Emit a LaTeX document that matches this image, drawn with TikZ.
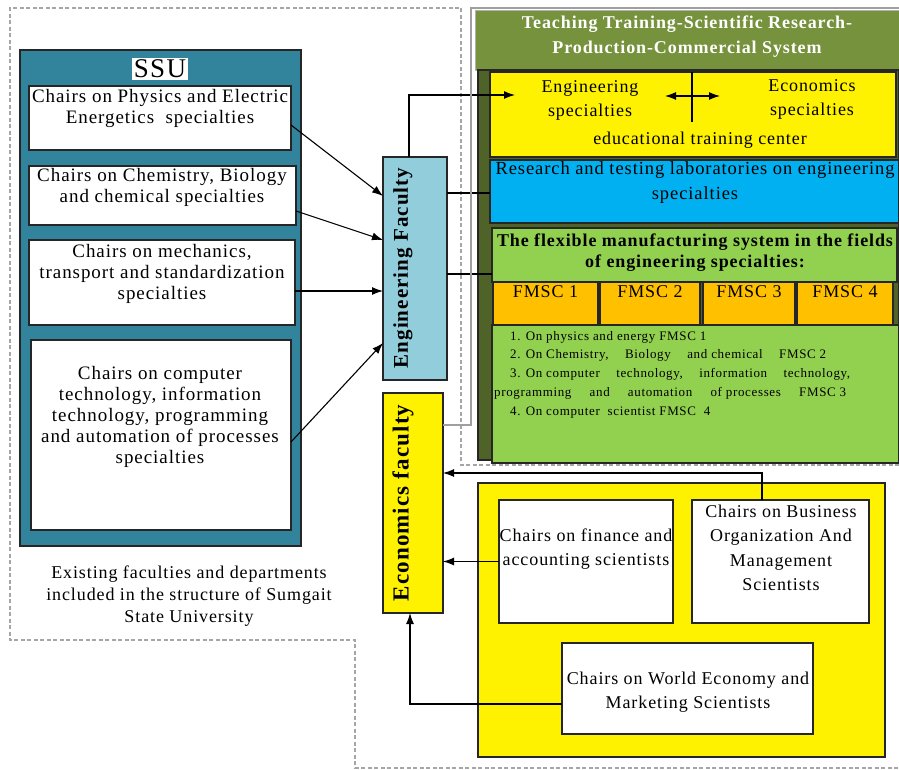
\documentclass[tikz,border=0pt]{standalone}
\usepackage{fontspec}
\setmainfont{Liberation Serif}[LetterSpace=5]
\usetikzlibrary{arrows.meta, positioning, calc}

\definecolor{ssuteal}{RGB}{49,132,155}
\definecolor{faclight}{RGB}{146,205,220}
\definecolor{olivehead}{RGB}{118,146,60}
\definecolor{olivedark}{RGB}{79,98,40}
\definecolor{labcyan}{RGB}{0,176,240}
\definecolor{fmsgreen}{RGB}{146,208,80}
\definecolor{fmsorange}{RGB}{255,192,0}
\newcommand{\txtsize}[2]{\fontsize{#1}{#2}\selectfont}

\begin{document}
\begin{tikzpicture}[
  x = 1pt, y = -1pt,
  blk/.style     = {draw=black!85, line width=1.5pt, inner sep=0pt,
                    outer sep=0pt, anchor=north west},
  chair/.style   = {blk, fill=white},
  txt/.style     = {align=center, inner sep=0pt, font=\txtsize{19}{21}},
  vtxt/.style    = {rotate=90, inner sep=0pt, font=\bfseries\txtsize{21}{21}},
  arr/.style     = {-{Latex[length=11pt,width=8pt]}, line width=1.1pt},
  darr/.style    = {{Latex[length=11pt,width=8pt]}-{Latex[length=11pt,width=8pt]},
                    line width=1.1pt},
  conn/.style    = {line width=1.1pt},
  outline/.style = {draw=gray!70, dash pattern=on 4pt off 2.5pt, line width=1.6pt}
]

\fill[white] (0,0) rectangle (899,770);
\useasboundingbox (0,0) rectangle (899,770);

% dashed boundary
\draw[outline] (899,465) -- (461,465) -- (461,8) -- (10,8) -- (10,640)
               -- (355,640) -- (355,768) -- (899,768);

% SSU block
\node[blk, fill=ssuteal, minimum width=281pt, minimum height=496pt] (ssu) at (20,50) {};
\node[fill=white, inner sep=2pt, font=\txtsize{27}{27}] (ssutitle) at (160,69) {SSU};
\node[chair, minimum width=262pt, minimum height=64pt]  (phys) at (29,86) {};
\node[chair, minimum width=267pt, minimum height=59pt]  (chem) at (29,166) {};
\node[chair, minimum width=266pt, minimum height=85pt]  (mech) at (29,240) {};
\node[chair, minimum width=260pt, minimum height=190pt] (comp) at (31,340) {};
\node[txt] (physt) at (160,108.5) {Chairs on Physics and Electric\\Energetics\ \ specialties};
\node[txt] (chemt) at (162,187.5) {Chairs on Chemistry, Biology\\and chemical specialties};
\node[txt] (mecht) at (162,274) {Chairs on mechanics,\\transport and standardization\\specialties};
\node[txt] (compt) at (160,417) {Chairs on computer\\technology, information\\technology, programming\\and automation of processes\\specialties};
\node[txt, font=\txtsize{18}{22}] (caption) at (189,596)
  {Existing faculties and departments\\included in the structure of Sumgait\\State University};

% faculties
\node[blk, fill=faclight, minimum width=64pt, minimum height=223pt] (engfac) at (383,157) {};
\node[vtxt] (engtxt) at (403,268) {Engineering Faculty};
\node[blk, fill=yellow, minimum width=60pt, minimum height=220pt] (econ) at (383,393) {};
\node[vtxt, font=\bfseries\txtsize{23}{23}] (econtxt) at (403,503) {Economics faculty};

% teaching, research, production system
\node[blk, draw=gray!60, line width=0.8pt, fill=olivehead,
      minimum width=424pt, minimum height=60pt] (header) at (475,10) {};
\node[txt, text=white, font=\bfseries\txtsize{18}{25}] (headtxt) at (687,37)
  {Teaching Training-Scientific Research-\\Production-Commercial System};
\node[blk, fill=olivedark, minimum width=421pt, minimum height=390pt] (panel) at (478,70) {};
\node[blk, fill=yellow, minimum width=406pt, minimum height=85pt] (edu) at (490,72) {};
\node[txt, font=\txtsize{18}{24}] (engspec) at (590,100) {Engineering\\specialties};
\node[txt, font=\txtsize{18}{24}] (ecospec) at (812,99) {Economics\\specialties};
\node[txt, font=\txtsize{18}{18}] (edutxt) at (700,140) {educational training center};
\node[blk, fill=labcyan, minimum width=409pt, minimum height=63pt] (lab) at (490,160) {};
\node[txt, font=\txtsize{18.5}{25}] (labtxt) at (695,183)
  {Research and testing laboratories on engineering\\specialties};
\node[blk, fill=fmsgreen, minimum width=405pt, minimum height=54pt] (fms) at (492,228) {};
\node[txt, font=\bfseries\txtsize{18}{21}] (fmstxt) at (695,253)
  {The flexible manufacturing system in the fields\\of engineering specialties:};
\foreach \i/\xa/\w in {1/493/105, 2/600/100, 3/703/92, 4/797/96} {
  \node[blk, fill=fmsorange, minimum width=\w pt, minimum height=43pt] (fmsc\i) at (\xa,282) {};
  \node[txt, font=\txtsize{18}{18}, below=3pt of fmsc\i.north] (fmsct\i) {FMSC \i};
}
\node[blk, fill=fmsgreen, minimum width=407pt, minimum height=138pt] (fmslist) at (492,325) {};
\node[anchor=north west, align=left, inner sep=0pt, font=\txtsize{13}{18.7}] (listtxt) at (494,331)
  {\hspace*{16pt}1. On physics and energy FMSC 1\\
   \hspace*{16pt}\makebox[316pt][l]{2. On Chemistry,\hfill Biology\hfill and chemical\hfill FMSC 2}\\
   \hspace*{16pt}\makebox[340pt][l]{3. On computer\hfill technology,\hfill information\hfill technology,}\\
   \makebox[352pt][l]{programming\hfill and\hfill automation\hfill of processes\hfill FMSC 3}\\
   \hspace*{16pt}4. On computer\ \ scientist FMSC\ \ 4};

% economics chairs
\node[blk, fill=yellow, minimum width=407pt, minimum height=274pt] (ecoarea) at (478,483) {};
\node[chair, minimum width=174pt, minimum height=123pt] (fin) at (499,500) {};
\node[chair, minimum width=177pt, minimum height=123pt] (bus) at (692,500) {};
\node[chair, minimum width=251pt, minimum height=91pt] (world) at (562,643) {};
\node[txt, font=\txtsize{18}{24}] (fint) at (586,549) {Chairs on finance and\\accounting scientists};
\node[txt, font=\txtsize{18}{24.5}] (bust) at (781,548)
  {Chairs on Business\\Organization And\\Management\\Scientists};
\node[txt, font=\txtsize{18}{24}] (worldt) at (688,692) {Chairs on World Economy and\\Marketing Scientists};

% connectors
\coordinate (engtip) at (515,95);
\coordinate (framebl) at (471,425);
\coordinate (frametl) at (471,8);
\coordinate (frametr) at (899,8);
\coordinate (swl) at (665,96);
\coordinate (swr) at (720,96);
\draw[arr] (phys.east |- 0,125) -- (engfac.west |- 0,196);
\draw[arr] (chem.east |- 0,211) -- (engfac.west |- 0,240);
\draw[arr] (mech.east |- 0,291) -- (engfac.west |- 0,291);
\draw[arr] (comp.east |- 0,442) -- (engfac.west |- 0,343);
\draw[arr] (engfac.north -| 409,0) |- (engtip);
\draw[conn] (engfac.east |- 0,193) -- (lab.west |- 0,193);
\draw[conn] (engfac.east |- 0,274) -- (fms.west |- 0,274);
\draw[conn, draw=gray!75] (econ.east |- framebl) -- (framebl) -- (frametl) -- (frametr);
\draw[conn] (edu.north -| 692,0) -- (692,122);
\draw[darr] (swl) -- (swr);
\draw[arr] (bus.north -| 762,0) |- (econ.east |- 0,473);
\draw[arr] (fin.west) -- (econ.east |- fin.west);
\draw[arr] (world.west |- 0,704) -| (econ.south -| 410,0);

\end{tikzpicture}
\end{document}
